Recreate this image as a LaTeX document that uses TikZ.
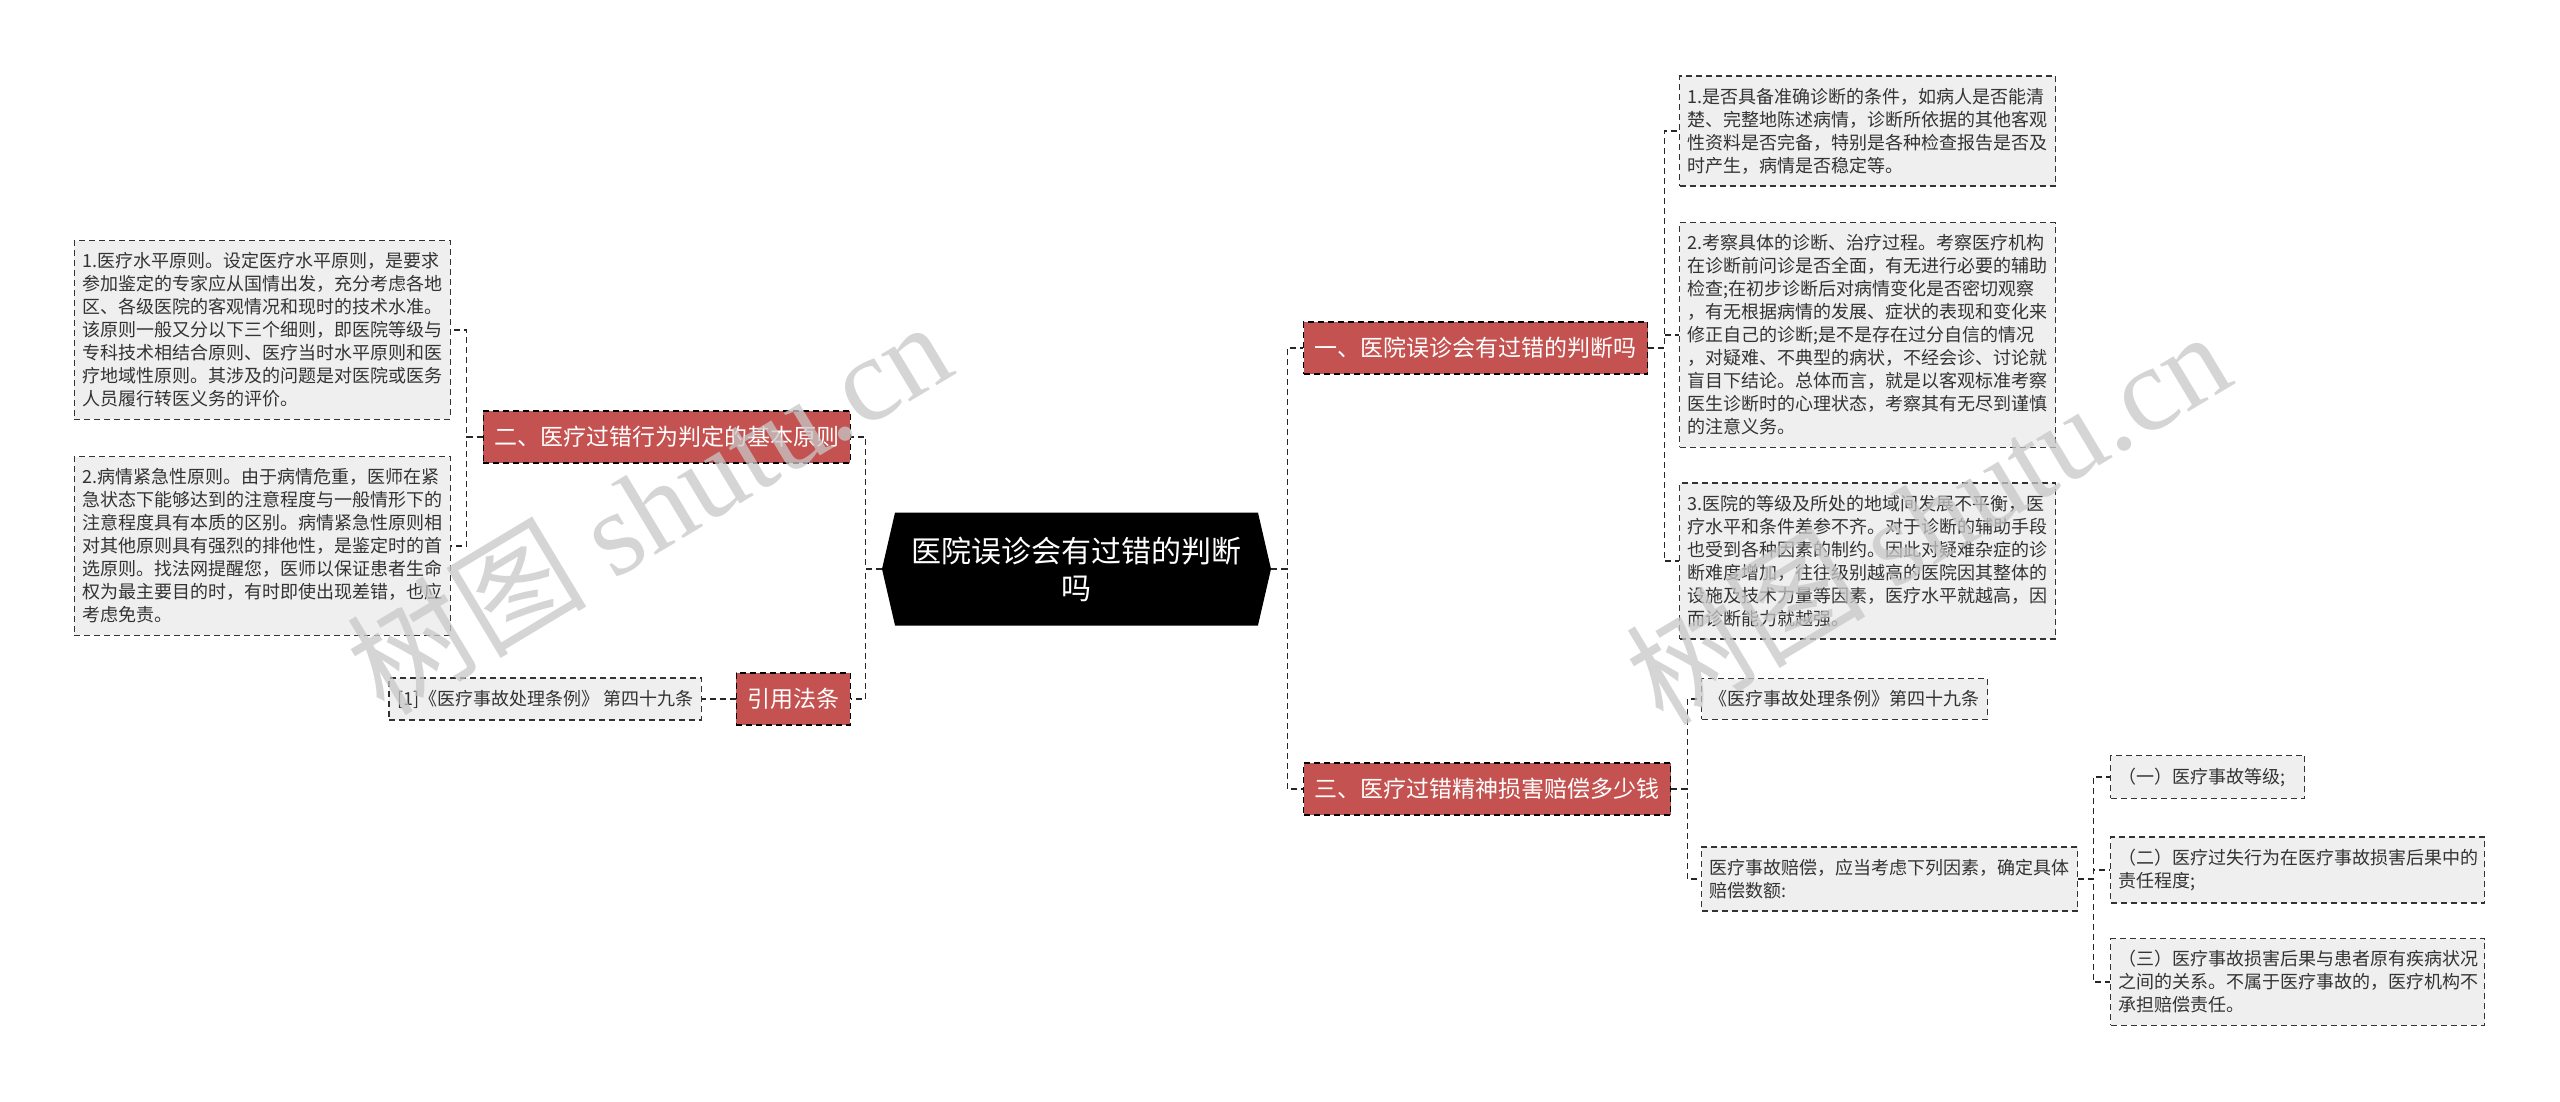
\documentclass[tikz,border=0pt]{standalone}
\usepackage{fontspec}
\setmainfont{Noto Sans CJK SC}
\newfontfamily\wmlatin{Liberation Serif}
\usetikzlibrary{positioning,shapes.symbols}
\definecolor{topicred}{RGB}{196,82,80}
\definecolor{leafgray}{RGB}{239,239,239}
\definecolor{inkgray}{RGB}{51,51,51}
\tikzset{
    rootnode/.style={
        signal,
        signal to=west and east,
        signal pointer angle=154,
        fill=black,
        text=white,
        align=center,
        minimum width=194.5pt,
        minimum height=56.5pt,
        inner sep=2pt,
        font=\fontsize{15}{18.5}\selectfont
    },
    topic/.style={
        draw=black,
        dash pattern=on 3pt off 2pt,
        line width=0.7pt,
        fill=topicred,
        text=white,
        minimum height=26pt,
        inner xsep=5.5pt,
        font=\fontsize{11.5}{14}\selectfont
    },
    leaf/.style={
        draw=black!80,
        dash pattern=on 3pt off 2pt,
        line width=0.7pt,
        fill=leafgray,
        text=inkgray,
        align=left,
        inner xsep=4pt,
        inner ysep=6pt,
        font=\fontsize{9}{11.5}\selectfont
    },
    wide/.style={text width=180pt},
    link/.style={draw=black!85, dash pattern=on 3pt off 2pt, line width=0.7pt},
    watermark/.style={text=black!22, opacity=0.75, rotate=31,
        font=\fontsize{60}{60}\selectfont}
}

\begin{document}
\begin{tikzpicture}[x=0.5pt, y=-0.5pt]
    \useasboundingbox (0,0) rectangle (2560,1102);

    \node[rootnode] (root) at (1076.5,569) {医院误诊会有过错的判断\\吗};

    % left half
    \node[topic, anchor=east] (yuanze) at (851,437) {二、医疗过错行为判定的基本原则};
    \node[topic, anchor=east] (fatiao) at (851,699) {引用法条};
    \node[leaf, wide, anchor=east] (shuiping) at (451,330) {1.医疗水平原则。设定医疗水平原则，是要求\\参加鉴定的专家应从国情出发，充分考虑各地\\区、各级医院的客观情况和现时的技术水准。\\该原则一般又分以下三个细则，即医院等级与\\专科技术相结合原则、医疗当时水平原则和医\\疗地域性原则。其涉及的问题是对医院或医务\\人员履行转医义务的评价。};
    \node[leaf, wide, anchor=east] (jinji) at (451,546) {2.病情紧急性原则。由于病情危重，医师在紧\\急状态下能够达到的注意程度与一般情形下的\\注意程度具有本质的区别。病情紧急性原则相\\对其他原则具有强烈的排他性，是鉴定时的首\\选原则。找法网提醒您，医师以保证患者生命\\权为最主要目的时，有时即使出现差错，也应\\考虑免责。};
    \node[leaf, anchor=east] (tiaoliL) at (702,699) {[1]《医疗事故处理条例》 第四十九条};

    % right half
    \node[topic, anchor=west] (panduan) at (1303,348) {一、医院误诊会有过错的判断吗};
    \node[topic, anchor=west] (peichang) at (1303,789) {三、医疗过错精神损害赔偿多少钱};
    \node[leaf, wide, anchor=west] (tiaojian) at (1679,131) {1.是否具备准确诊断的条件，如病人是否能清\\楚、完整地陈述病情，诊断所依据的其他客观\\性资料是否完备，特别是各种检查报告是否及\\时产生，病情是否稳定等。};
    \node[leaf, wide, anchor=west] (guocheng) at (1679,335) {2.考察具体的诊断、治疗过程。考察医疗机构\\在诊断前问诊是否全面，有无进行必要的辅助\\检查;在初步诊断后对病情变化是否密切观察\\，有无根据病情的发展、症状的表现和变化来\\修正自己的诊断;是不是存在过分自信的情况\\，对疑难、不典型的病状，不经会诊、讨论就\\盲目下结论。总体而言，就是以客观标准考察\\医生诊断时的心理状态，考察其有无尽到谨慎\\的注意义务。};
    \node[leaf, wide, anchor=west] (dengji) at (1679,561) {3.医院的等级及所处的地域间发展不平衡，医\\疗水平和条件差参不齐。对于诊断的辅助手段\\也受到各种因素的制约。因此对疑难杂症的诊\\断难度增加，往往级别越高的医院因其整体的\\设施及技术力量等因素，医疗水平就越高，因\\而诊断能力就越强。};
    \node[leaf, anchor=west] (tiaoliR) at (1701,699) {《医疗事故处理条例》第四十九条};
    \node[leaf, wide, anchor=west] (shue) at (1701,879) {医疗事故赔偿，应当考虑下列因素，确定具体\\赔偿数额:};
    \node[leaf, text width=89pt, anchor=west] (yinsu1) at (2110,777) {（一）医疗事故等级;};
    \node[leaf, text width=179pt, anchor=west] (yinsu2) at (2110,870) {（二）医疗过失行为在医疗事故损害后果中的\\责任程度;};
    \node[leaf, text width=179pt, anchor=west] (yinsu3) at (2110,982) {（三）医疗事故损害后果与患者原有疾病状况\\之间的关系。不属于医疗事故的，医疗机构不\\承担赔偿责任。};

    \foreach \c in {yuanze,fatiao}
        \draw[link] (root.west) -- ++(-16,0) |- (\c.east);
    \foreach \c in {shuiping,jinji}
        \draw[link] (yuanze.west) -- ++(-16,0) |- (\c.east);
    \draw[link] (fatiao.west) -- (tiaoliL.east);
    \foreach \c in {panduan,peichang}
        \draw[link] (root.east) -- ++(16,0) |- (\c.west);
    \foreach \c in {tiaojian,guocheng,dengji}
        \draw[link] (panduan.east) -- ++(16,0) |- (\c.west);
    \foreach \c in {tiaoliR,shue}
        \draw[link] (peichang.east) -- ++(16,0) |- (\c.west);
    \foreach \c in {yinsu1,yinsu2,yinsu3}
        \draw[link] (shue.east) -- ++(15,0) |- (\c.west);

    \node[watermark] (wmleft) at (648,506) {树图 {\wmlatin shutu.cn}};
    \node[watermark] (wmright) at (1927,516) {树图 {\wmlatin shutu.cn}};
\end{tikzpicture}
\end{document}
